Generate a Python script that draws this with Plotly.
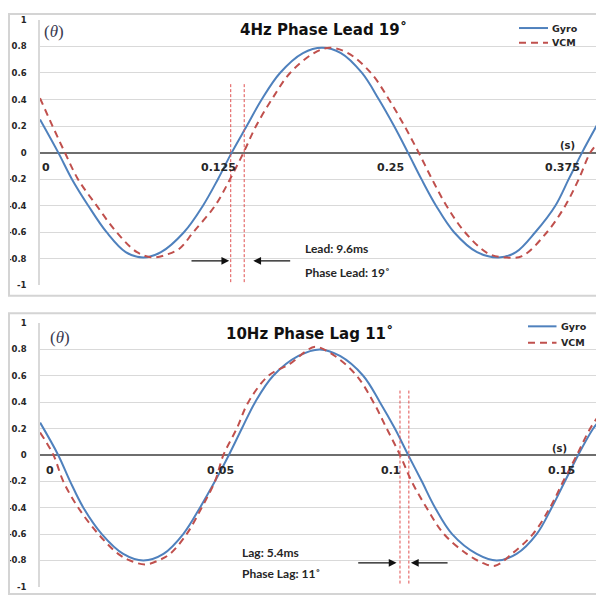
import plotly.graph_objects as go

# ---------------- data ----------------
# Top panel: 4 Hz
top_gyro_t = [-0.0047, 0.0086, 0.0185, 0.0304, 0.0437, 0.0576, 0.0703, 0.0832, 0.0999, 0.1137,
              0.1246, 0.1346, 0.1455, 0.1564, 0.1697, 0.1864, 0.2002, 0.2140, 0.2293, 0.2416,
              0.2526, 0.2627, 0.2725, 0.2831, 0.2962, 0.3129, 0.3286, 0.3412, 0.3552, 0.3698,
              0.3795, 0.3892, 0.4013]
top_gyro_v = [0.25, 0.0, -0.2, -0.4, -0.6, -0.75, -0.79, -0.75, -0.6, -0.4,
              -0.2, 0.0, 0.2, 0.4, 0.6, 0.75, 0.79, 0.75, 0.6, 0.4,
              0.2, 0.0, -0.2, -0.4, -0.6, -0.75, -0.79, -0.75, -0.6, -0.4,
              -0.2, 0.0, 0.23]
top_vcm_t = [-0.0047, 0.0044, 0.0134, 0.0229, 0.0365, 0.0510, 0.0658, 0.0776, 0.0883, 0.0970,
             0.1067, 0.1225, 0.1334, 0.1432, 0.1523, 0.1637, 0.1770, 0.1944, 0.2061, 0.2191,
             0.2358, 0.2489, 0.2602, 0.2705, 0.2802, 0.2907, 0.3041, 0.3209, 0.3334, 0.3456,
             0.3637, 0.3770, 0.3868, 0.3952, 0.4013]
top_vcm_v = [0.41, 0.2, 0.0, -0.2, -0.4, -0.6, -0.75, -0.79, -0.765, -0.72,
             -0.6, -0.4, -0.2, 0.0, 0.2, 0.4, 0.6, 0.75, 0.79, 0.75,
             0.6, 0.4, 0.2, 0.0, -0.2, -0.4, -0.6, -0.76, -0.79, -0.78,
             -0.6, -0.4, -0.2, 0.0, 0.08]
top_xtick_vals = [0, 0.125, 0.25, 0.375]
top_xtick_text = ["0", "0.125", "0.25", "0.375"]

# Bottom panel: 10 Hz
bot_gyro_t = [-0.0029, 0.0024, 0.0059, 0.0098, 0.0152, 0.0215, 0.0274, 0.0333, 0.0391, 0.0440,
              0.0484, 0.0525, 0.0563, 0.0602, 0.0655, 0.0729, 0.0792, 0.0851, 0.0919, 0.0968,
              0.1012, 0.1051, 0.1091, 0.1130, 0.1180, 0.1252, 0.1311, 0.1369, 0.1428, 0.1472,
              0.1511, 0.1550, 0.1594, 0.1608]
bot_gyro_v = [0.245, 0.0, -0.2, -0.4, -0.6, -0.75, -0.80, -0.75, -0.6, -0.4,
              -0.2, 0.0, 0.2, 0.4, 0.6, 0.75, 0.80, 0.75, 0.6, 0.4,
              0.2, 0.0, -0.2, -0.4, -0.6, -0.75, -0.80, -0.75, -0.6, -0.4,
              -0.2, 0.0, 0.2, 0.245]
bot_vcm_t = [-0.0029, 0.0010, 0.0039, 0.0083, 0.0142, 0.0200, 0.0235, 0.0279, 0.0318, 0.0352,
             0.0401, 0.0445, 0.0484, 0.0509, 0.0548, 0.0582, 0.0641, 0.0704, 0.0748, 0.0778,
             0.0836, 0.0900, 0.0949, 0.0988, 0.1027, 0.1061, 0.1105, 0.1156, 0.1223, 0.1271,
             0.1306, 0.1355, 0.1417, 0.1467, 0.1506, 0.1546, 0.1585, 0.1608]
bot_vcm_v = [0.17, 0.0, -0.2, -0.4, -0.6, -0.75, -0.80, -0.83, -0.80, -0.75,
             -0.6, -0.4, -0.2, 0.0, 0.2, 0.4, 0.6, 0.69, 0.78, 0.82,
             0.75, 0.6, 0.4, 0.2, 0.0, -0.2, -0.4, -0.6, -0.75, -0.82,
             -0.84, -0.75, -0.6, -0.4, -0.2, 0.0, 0.2, 0.29]
bot_xtick_vals = [0, 0.05, 0.1, 0.15]
bot_xtick_text = ["0", "0.05", "0.1", "0.15"]

y_tick_vals = [1, 0.8, 0.6, 0.4, 0.2, 0, -0.2, -0.4, -0.6, -0.8, -1]
y_tick_text = ["1", "0.8", "0.6", "0.4", "0.2", "0", "-0.2", "-0.4", "-0.6", "-0.8", "-1"]

series_names = ["Gyro", "VCM"]
titles = ["4Hz Phase Lead 19˚", "10Hz Phase Lag 11˚"]
notes_top = ["Lead: 9.6ms", "Phase Lead: 19˚"]
notes_bot = ["Lag: 5.4ms", "Phase Lag: 11˚"]

# ---------------- styling / geometry ----------------
OFF = 8                      # page body margin
W, H = 604 - OFF, 602 - OFF  # figure size so that figure fills the window
BLUE = "#4F81BD"
RED = "#C0504D"
GRID = "#D9D9D9"
TXT = "#262626"
BOLD = "DejaVu Sans"
VDASH = "7px,5px"


def PX(px):   # window pixel -> paper x
    return (px - OFF) / W


def PY(py):   # window pixel -> paper y
    return 1 - (py - OFF) / H


fig = go.Figure()


def add_pair(gt, gv, vt, vv, xa, ya):
    fig.add_trace(go.Scatter(x=gt, y=gv, mode="lines", name=series_names[0], xaxis=xa, yaxis=ya,
                             line=dict(color=BLUE, width=2, shape="spline", smoothing=1.0)))
    fig.add_trace(go.Scatter(x=vt, y=vv, mode="lines", name=series_names[1], xaxis=xa, yaxis=ya,
                             line=dict(color=RED, width=2, dash=VDASH, shape="spline", smoothing=1.0)))


add_pair(top_gyro_t, top_gyro_v, top_vcm_t, top_vcm_v, "x", "y")
add_pair(bot_gyro_t, bot_gyro_v, bot_vcm_t, bot_vcm_v, "x2", "y2")

xdom = [PX(40), PX(598)]
top_dom = [PY(285), PY(15)]
bot_dom = [PY(591.7), PY(323.3)]


def yax(dom, anchor):
    return dict(domain=dom, anchor=anchor, range=[-1, 1], tickvals=y_tick_vals,
                ticktext=[f"<b>{t}</b>" for t in y_tick_text],
                tickfont=dict(family=BOLD, size=8.5, color=TXT),
                showgrid=True, gridcolor=GRID, gridwidth=1,
                zeroline=True, zerolinecolor="#6E6E6E", zerolinewidth=1.6,
                showline=True, linecolor=GRID, linewidth=1.5,
                ticks="", ticklabelstandoff=10, fixedrange=True)


def xax(dom, anchor, rng):
    return dict(domain=dom, anchor=anchor, range=rng, showgrid=False, zeroline=False,
                showline=False, showticklabels=False, ticks="", fixedrange=True)


fig.update_layout(
    width=W, height=H, margin=dict(l=0, r=0, t=0, b=0),
    paper_bgcolor="white", plot_bgcolor="white",
    xaxis=xax(xdom, "y", [-0.0047, 0.4008]),
    yaxis=yax(top_dom, "x"),
    xaxis2=xax(xdom, "y2", [-0.00293, 0.1608]),
    yaxis2=yax(bot_dom, "x2"),
    showlegend=False,
)

shapes = []
# panel frames
shapes.append(dict(type="rect", xref="paper", yref="paper", x0=1 / W, x1=PX(600),
                   y0=PY(295.5), y1=1 - 1 / H, line=dict(color="#D4D4D4", width=2)))
shapes.append(dict(type="rect", xref="paper", yref="paper", x0=1 / W, x1=PX(600),
                   y0=PY(599), y1=PY(313.3), line=dict(color="#D4D4D4", width=2)))
# dotted marker lines
for xv in (0.1339, 0.1437):
    shapes.append(dict(type="line", xref="x", yref="y", x0=xv, x1=xv, y0=-0.976, y1=0.519,
                       line=dict(color="#E05050", width=1, dash="3px,2px")))
for xv in (0.1027, 0.1053):
    shapes.append(dict(type="line", xref="x2", yref="y2", x0=xv, x1=xv, y0=-0.975, y1=0.503,
                       line=dict(color="#E05050", width=1, dash="3px,2px")))

ann = []


def text(x, y, s, xr, yr, size, family=BOLD, xanchor="center", color=TXT):
    ann.append(dict(x=x, y=y, xref=xr, yref=yr, text=s, showarrow=False, xanchor=xanchor,
                    yanchor="middle", font=dict(family=family, size=size, color=color)))


# custom legends (window-pixel positions)
for (lx0, lx1, ly_g, ly_v, tx) in ((519, 548, 23.3, 38.3, 550), (528, 556.5, 326.7, 343.3, 558.5)):
    shapes.append(dict(type="line", xref="paper", yref="paper", x0=PX(lx0), x1=PX(lx1),
                       y0=PY(ly_g), y1=PY(ly_g), line=dict(color=BLUE, width=2)))
    shapes.append(dict(type="line", xref="paper", yref="paper", x0=PX(lx0), x1=PX(lx1),
                       y0=PY(ly_v), y1=PY(ly_v), line=dict(color=RED, width=2, dash=VDASH)))
    text(PX(tx), PY(ly_g), f"<b>{series_names[0]}</b>", "paper", "paper", 9.5, xanchor="left")
    text(PX(tx), PY(ly_v), f"<b>{series_names[1]}</b>", "paper", "paper", 9.5, xanchor="left")

fig.update_layout(shapes=shapes)

for v, t in zip(top_xtick_vals, top_xtick_text):
    text(v, -0.11, f"<b>{t}</b>", "x", "y", 11)
for v, t in zip(bot_xtick_vals, bot_xtick_text):
    text(v, -0.12, f"<b>{t}</b>", "x2", "y2", 11)

text(0.3783, 0.055, "<b>(s)</b>", "x", "y", 10)
text(0.1496, 0.045, "<b>(s)</b>", "x2", "y2", 10)

text(-0.0034, 0.91, "(<i>θ</i>)", "x", "y", 17, family="Liberation Serif", xanchor="left", color="#3A3A50")
text(-0.0006, 0.89, "(<i>θ</i>)", "x2", "y2", 17, family="Liberation Serif", xanchor="left", color="#3A3A50")

text(0.2013, 0.926, f"<b>{titles[0]}</b>", "x", "y", 15, color="#111111")
text(0.0763, 0.913, f"<b>{titles[1]}</b>", "x2", "y2", 15, color="#111111")

text(0.1866, -0.726, f"<b>{notes_top[0]}</b>", "x", "y", 12, family="Lato", xanchor="left")
text(0.1866, -0.901, f"<b>{notes_top[1]}</b>", "x", "y", 12, family="Lato", xanchor="left")
text(0.0557, -0.739, f"<b>{notes_bot[0]}</b>", "x2", "y2", 12, family="Lato", xanchor="left")
text(0.0557, -0.900, f"<b>{notes_bot[1]}</b>", "x2", "y2", 12, family="Lato", xanchor="left")


def arrow(x_tip, x_tail, y, xr, yr):
    ann.append(dict(x=x_tip, y=y, ax=x_tail, ay=y, xref=xr, yref=yr, axref=xr, ayref=yr,
                    text="", showarrow=True, arrowhead=2, arrowsize=1.3, arrowwidth=1.2,
                    arrowcolor="#111111", standoff=0))


arrow(0.1328, 0.1043, -0.815, "x", "y")
arrow(0.1503, 0.1782, -0.815, "x", "y")
arrow(0.1017, 0.0900, -0.818, "x2", "y2")
arrow(0.1059, 0.1171, -0.818, "x2", "y2")

fig.update_layout(annotations=ann)
fig.write_html("out.html")
